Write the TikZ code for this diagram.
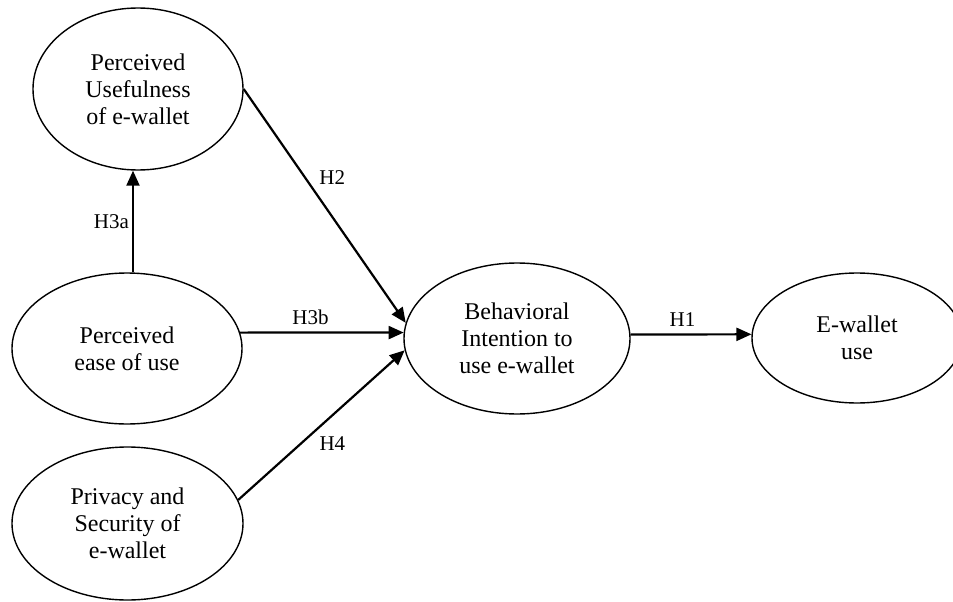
\documentclass[tikz,border=0pt]{standalone}
\usepackage{fontspec}
\setmainfont{Liberation Serif}
\usetikzlibrary{arrows.meta,shapes.geometric}
\begin{document}
\begin{tikzpicture}[x=1pt,y=-1pt,>={Triangle[length=15pt,width=13pt]},
    construct/.style={draw,ellipse,line width=1.4pt,inner sep=0pt,align=center,
      font=\fontsize{24}{27}\selectfont},
    hyp/.style={inner sep=2pt,font=\fontsize{21}{24}\selectfont}]
      \clip (0,0) rectangle (953,602);
      \node[construct,minimum width=210,minimum height=162] (pu) at (138,89) {Perceived\\Usefulness\\of e-wallet};
      \node[construct,minimum width=230,minimum height=151] (pe) at (127,348.5) {Perceived\\ease of use};
      \node[construct,minimum width=231,minimum height=153] (ps) at (127.5,523.5) {Privacy and\\Security of\\e-wallet};
      \node[construct,minimum width=226,minimum height=151] (bi) at (517,338.5) {Behavioral\\Intention to\\use e-wallet};
      \node[construct,minimum width=210,minimum height=130] (ew) at (857,338) {E-wallet\\use};

      \draw[line width=2.2pt,->] (pe.north -| 133,0) -- (pu.south -| 133,0) node[hyp,midway,left=1pt] {H3a};
      \draw[line width=2.2pt,->] (pu.east) -- (bi.172) node[hyp,pos=0.38,right=11pt] {H2};
      \draw[line width=2.2pt,->] (pe.8) -- (bi.177) node[hyp,pos=0.43,above=5pt] {H3b};
      \draw[line width=2.2pt,->] (ps.12) -- (bi.186) node[hyp,pos=0.38,right=15pt] {H4};

      \draw[line width=2.2pt,->] (bi.2) -- (ew.178) node[hyp,pos=0.43,above=5pt] {H1};
    \end{tikzpicture}
\end{document}
